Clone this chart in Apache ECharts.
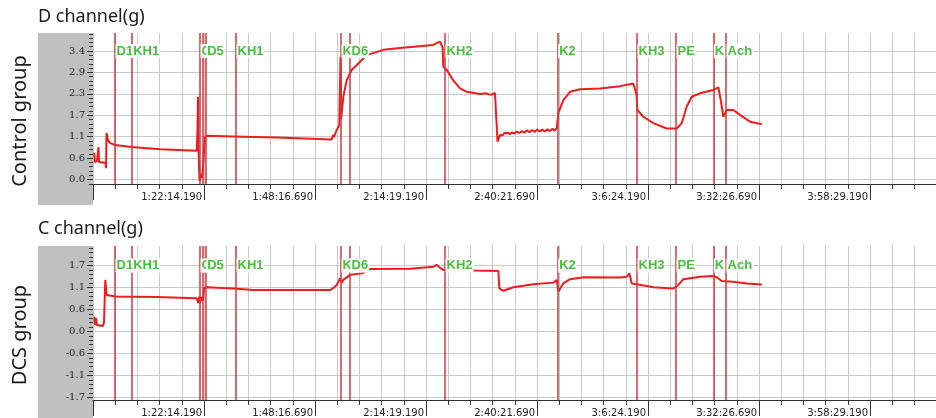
<!DOCTYPE html>
<html>
<head>
<meta charset="utf-8">
<script src="https://cdn.jsdelivr.net/npm/echarts@6/dist/echarts.min.js"></script>
<style>
  html, body { margin: 0; padding: 0; background: #fff; }
  #chart { width: 936px; height: 418px; }
</style>
</head>
<body>
<div id="chart"></div>
<script>
// recorder clock at the left edge of the plot: 0:56:11.690 (seconds)
const T0 = 3371.69
const xMinorStep = 312.5
const xMajorStep = 1562.5
const xSpan = 11866

const xTickLabels = ['1:22:14.190', '1:48:16.690', '2:14:19.190', '2:40:21.690', '3:6:24.190', '3:32:26.690', '3:58:29.190']

const topTickValues = [0, 0.5667, 1.1333, 1.7, 2.2667, 2.8333, 3.4]
const topTickLabels = ['0.0', '0.6', '1.1', '1.7', '2.3', '2.9', '3.4']
const botTickValues = [-1.7, -1.1333, -0.5667, 0, 0.5667, 1.1333, 1.7]
const botTickLabels = ['-1.7', '-1.1', '-0.6', '0.0', '0.6', '1.1', '1.7']

// event markers (clock time in minutes)
const markerTime = [61.36, 65.27, 81.30, 81.93, 82.64, 89.75, 114.38, 116.49, 138.78, 165.22, 183.83, 192.98, 201.73, 204.71]
const markerName = ['D1', 'KH1', 'C', '', 'D5', 'KH1', 'K', 'D6', 'KH2', 'K2', 'KH3', 'PE', 'K', 'Ach']

// D channel, control group: [clock minutes, g]
const ctrlPoints = [
  [56.50, 0.70], [56.62, 0.46], [57.13, 0.49], [57.35, 0.47], [57.49, 0.86], [57.60, 0.46], [58.5, 0.45],
  [59.13, 0.44], [59.25, 0.30], [59.36, 1.23], [59.71, 1.04], [60.18, 0.97], [61.36, 0.91], [65.27, 0.86],
  [71.91, 0.80], [80.53, 0.76], [80.71, 1.31], [80.83, 2.19], [80.95, 0.78], [81.18, -0.04], [81.53, 0.15],
  [81.77, 0.04], [82.12, 0.52], [82.47, 1.12], [82.94, 1.16], [89.04, 1.14], [99.37, 1.11], [112.2, 1.06],
  [112.5, 1.18], [112.7, 1.12], [113.37, 1.31], [113.98, 1.44], [114.26, 3.24], [114.4, 1.6], [114.55, 1.76],
  [114.92, 2.19], [115.72, 2.63], [116.89, 2.90], [118.44, 3.07], [120.41, 3.29], [124.30, 3.43], [128.22, 3.48],
  [135.97, 3.56], [137.61, 3.65], [138.24, 3.48], [138.38, 2.98], [139.18, 2.90], [140.66, 2.63], [142.30, 2.41],
  [143.87, 2.32], [147.0, 2.26], [148.5, 2.28], [149.5, 2.24], [150.5, 2.29], [150.91, 2.26], [151.10, 1.00],
  [151.69, 1.18], [152.0, 1.22], [152.3, 1.17], [152.7, 1.23], [153.1, 1.19], [153.5, 1.24], [154.0, 1.20],
  [154.5, 1.25], [155.0, 1.21], [155.6, 1.27], [156.2, 1.23], [156.8, 1.28], [157.4, 1.24], [158.0, 1.30],
  [158.6, 1.25], [159.2, 1.31], [159.8, 1.26], [160.4, 1.32], [161.0, 1.27], [161.6, 1.32], [162.2, 1.27],
  [162.8, 1.33], [163.4, 1.28], [164.0, 1.34], [164.5, 1.29], [164.99, 1.36], [165.37, 1.76], [166.54, 2.10],
  [168.11, 2.32], [170.45, 2.39], [175.15, 2.41], [179.84, 2.47], [182.96, 2.54], [183.36, 2.58], [183.71, 2.24],
  [183.90, 1.84], [185.30, 1.66], [187.65, 1.49], [190.79, 1.35], [193.14, 1.35], [194.31, 1.49], [195.48, 1.93],
  [196.66, 2.19], [198.60, 2.28], [201.73, 2.37], [202.90, 2.44], [203.46, 2.10], [204.07, 1.66], [204.87, 1.84],
  [206.42, 1.84], [207.99, 1.71], [210.34, 1.53], [213.09, 1.46]
]

// C channel, DCS group: [clock minutes, g]
const dcsPoints = [
  [56.50, 0.38], [56.66, 0.17], [56.90, 0.35], [57.13, 0.17], [58.54, 0.14], [58.78, 0.24], [59.08, 1.33],
  [59.41, 0.94], [61.36, 0.90], [71.14, 0.89], [71.21, 0.86], [80.53, 0.86], [80.75, 0.91], [80.91, 0.73],
  [81.1, 0.90], [81.3, 0.74], [81.6, 0.89], [82.0, 0.80], [82.24, 1.11], [82.87, 1.14], [89.11, 1.11],
  [93.80, 1.07], [111.80, 1.07], [112.57, 1.12], [113.37, 1.20], [114.14, 1.37], [114.50, 1.25], [114.92, 1.33],
  [116.49, 1.46], [119.24, 1.50], [121.18, 1.61], [130.57, 1.62], [136.04, 1.67], [136.83, 1.72], [137.61, 1.64],
  [138.38, 1.59], [138.78, 1.57], [145.82, 1.57], [151.29, 1.56], [151.52, 1.11], [152.46, 1.05], [154.81, 1.14],
  [159.50, 1.22], [164.19, 1.26], [164.99, 1.33], [165.37, 1.03], [166.54, 1.24], [168.11, 1.35], [171.23, 1.40],
  [179.84, 1.39], [181.41, 1.41], [182.02, 1.50], [182.58, 1.24], [183.75, 1.22], [187.65, 1.14], [192.34, 1.11],
  [193.52, 1.20], [194.69, 1.35], [198.60, 1.41], [201.73, 1.43], [202.52, 1.40], [203.70, 1.30], [206.42, 1.28],
  [209.56, 1.24], [213.09, 1.21]
]

const toX = t => t * 60 - T0
const xMajor = [0].concat(xTickLabels.map((l, i) => (i + 1) * xMajorStep))

const axisColor = '#333'
const gridColor = '#c8c8c8'
const markRed = '#d2363c'
const dataRed = '#ee1c1c'
const green = '#45bf3c'

function minorValues(min, max, step) {
  const out = []
  for (let k = Math.ceil(min / step - 1e-9); k * step <= max + 1e-9; k++) out.push(+(k * step).toFixed(5))
  return out
}

function lookup(values, labels) {
  return function (v) {
    for (let i = 0; i < values.length; i++) {
      if (Math.abs(values[i] - v) < 1e-3) return labels[i]
    }
    return ''
  }
}

const panels = [
  { top: 33, height: 151, min: -0.119, max: 3.876, ticks: topTickValues, labels: topTickLabels, points: ctrlPoints, labelY: 3.4 },
  { top: 246, height: 154, min: -1.765, max: 2.204, ticks: botTickValues, labels: botTickLabels, points: dcsPoints, labelY: 1.7 }
]

const grid = []
const xAxis = []
const yAxis = []
const series = []

panels.forEach((p, k) => {
  const g = k * 2
  grid.push({ left: 93, right: 0, top: p.top, height: p.height, containLabel: false })
  grid.push({ left: 93, right: 0, top: p.top, height: p.height, containLabel: false })

  // main axes: minor grid + ticks
  xAxis.push({
    type: 'value', gridIndex: g, min: 0, max: xSpan, interval: xMinorStep,
    axisLine: { show: true, onZero: false, lineStyle: { color: axisColor, width: 1 } },
    axisTick: { show: true, length: 5, lineStyle: { color: axisColor } },
    axisLabel: { show: false },
    splitLine: { show: true, lineStyle: { color: gridColor, width: 1 } }
  })
  // overlay axes: long major ticks + time labels
  xAxis.push({
    type: 'value', gridIndex: g + 1, min: 0, max: xSpan,
    axisLine: { show: false, onZero: false },
    axisTick: { show: true, length: 16, customValues: xMajor, lineStyle: { color: axisColor } },
    axisLabel: {
      show: true, customValues: xMajor.slice(1), margin: 8, align: 'right',
      padding: [0, 2, 0, 0],
      fontFamily: 'DejaVu Sans', fontSize: 10, color: '#222',
      formatter: v => xTickLabels[Math.round(v / xMajorStep) - 1] || ''
    },
    splitLine: { show: false }
  })

  yAxis.push({
    type: 'value', gridIndex: g, min: p.min, max: p.max,
    axisLine: { show: false, onZero: false },
    axisTick: { show: true, length: 6, customValues: p.ticks, lineStyle: { color: axisColor } },
    axisLabel: {
      show: true, customValues: p.ticks, margin: 8,
      fontFamily: 'DejaVu Serif', fontSize: 10, color: '#222',
      formatter: lookup(p.ticks, p.labels)
    },
    splitLine: { show: true, lineStyle: { color: gridColor, width: 1 } }
  })
  yAxis.push({
    type: 'value', gridIndex: g + 1, min: p.min, max: p.max,
    axisLine: { show: false, onZero: false },
    axisTick: { show: true, length: 4, customValues: minorValues(p.min, p.max, 0.5667 / 5), lineStyle: { color: axisColor } },
    axisLabel: { show: false },
    splitLine: { show: false }
  })

  series.push({
    type: 'line', xAxisIndex: g, yAxisIndex: g, z: 2,
    data: p.points.map(d => [toX(d[0]), d[1]]),
    showSymbol: false, smooth: false, silent: true,
    lineStyle: { color: dataRed, width: 2 }
  })

  series.push({
    type: 'scatter', xAxisIndex: g, yAxisIndex: g, z: 10, silent: true,
    symbolSize: 1, itemStyle: { color: 'rgba(0,0,0,0)', opacity: 1 },
    data: markerTime
      .map((t, i) => ({ value: [toX(t), p.labelY], name: markerName[i] }))
      .filter(d => d.name !== ''),
    label: {
      show: true, position: 'right', distance: 0, formatter: '{b}',
      color: green, fontFamily: 'Liberation Sans', fontWeight: 'bold', fontSize: 13,
      backgroundColor: '#fff', padding: [1, 1, 0, 1]
    },
    markLine: {
      silent: true, z: 5, symbol: ['none', 'none'],
      label: { show: false },
      lineStyle: { color: markRed, width: 1.5, type: 'solid', opacity: 1 },
      emphasis: { disabled: true },
      data: markerTime.map(t => ({ xAxis: toX(t) }))
    }
  })
})

const chart = echarts.init(document.getElementById('chart'))
chart.setOption({
  animation: false,
  backgroundColor: '#fff',
  textStyle: { fontFamily: 'Noto Sans' },
  grid: grid,
  xAxis: xAxis,
  yAxis: yAxis,
  series: series,
  graphic: [
    { type: 'rect', z: -1, silent: true, shape: { x: 38, y: 33, width: 55, height: 172 }, style: { fill: '#c0c0c0' } },
    { type: 'rect', z: -1, silent: true, shape: { x: 38, y: 246, width: 55, height: 172 }, style: { fill: '#c0c0c0' } },
    { type: 'text', x: 38, y: 17, style: { text: 'D channel(g)', fill: '#1a1a1a', font: '18px "Noto Sans"', align: 'left', verticalAlign: 'middle', textAlign: 'left', textVerticalAlign: 'middle' } },
    { type: 'text', x: 38, y: 229, style: { text: 'C channel(g)', fill: '#1a1a1a', font: '18px "Noto Sans"', align: 'left', verticalAlign: 'middle', textAlign: 'left', textVerticalAlign: 'middle' } },
    { type: 'text', x: 20, y: 121, rotation: Math.PI / 2, style: { text: 'Control group', fill: '#1a1a1a', font: '20px "Noto Sans"', align: 'center', verticalAlign: 'middle', textAlign: 'center', textVerticalAlign: 'middle' } },
    { type: 'text', x: 20, y: 335, rotation: Math.PI / 2, style: { text: 'DCS group', fill: '#1a1a1a', font: '20px "Noto Sans"', align: 'center', verticalAlign: 'middle', textAlign: 'center', textVerticalAlign: 'middle' } }
  ]
})
</script>
</body>
</html>
